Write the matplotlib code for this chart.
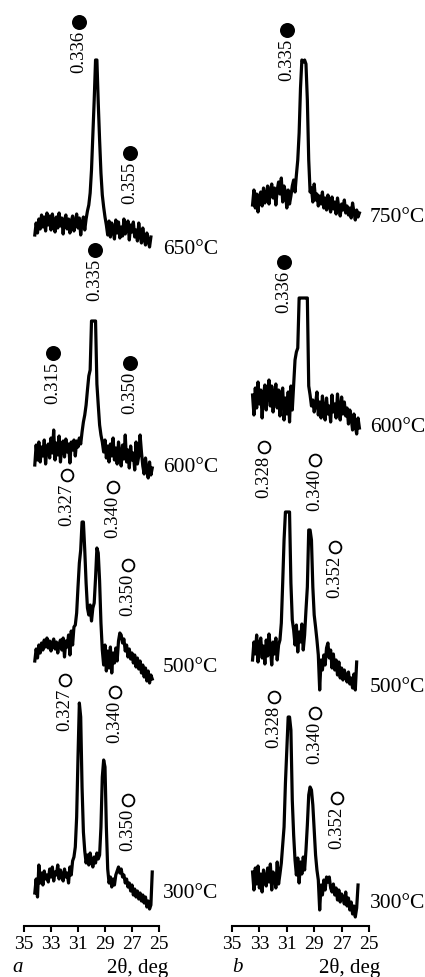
import numpy as np
import matplotlib
matplotlib.use("Agg")
import matplotlib.pyplot as plt

plt.rcParams['font.family'] = ['Liberation Serif', 'DejaVu Serif']

STEP = 0.1  # scan step, deg 2theta

# ---- panel a : intensities (arb. units) starting at 2theta = start, going down ----
a650_start = 34.2
a650 = [-10, 2, -8, 6, -4, 10, -2, 8, -6, 12,
        0, 9, -5, 11, 3, -7, 8, -3, 12, -1,
        7, -9, 5, 10, -4, 6, -8, 4, 9, -6,
        3, 11, -3, 7, -10, 2, 8, -5, 6, 14,
        20, 32, 55, 90, 125, 165, 165, 122, 85, 52,
        30, 18, 8, 0, -10, 4, -12, 2, -6, -14,
        5, -8, 3, -13, -2, -11, 6, -9, -4, 4,
        -15, 0, -7, 3, -12, -5, -16, 2, -10, -18,
        -3, -14, -20, -8, -16, -22, -12]

a600_start = 34.2
a600 = [-15, 5, -10, 8, -12, 3, -6, 10, -14, 2,
        6, -8, 12, -3, 20, -10, 7, -5, 14, -12,
        4, 9, -7, 11, -2, 6, -13, 8, 0, 10,
        -6, 9, 3, 12, 6, 18, 28, 35, 45, 60,
        74, 80, 129, 129, 129, 129, 66, 45, 25, 15,
        8, -2, 10, -8, 4, -12, 6, -6, 12, -10,
        2, -14, 8, -4, -16, 5, -9, 15, -12, 0,
        -18, 4, -10, -3, -20, 8, -14, -6, 15, -2,
        -16, -24, -8, -20, -28, -12, -25, -18]

a500_start = 34.2
a500 = [-8, 4, -5, 8, 0, 10, 3, 13, 6, 15,
        5, 12, 2, 10, 14, 4, 11, 0, 9, 13,
        3, 15, -4, 12, 6, 18, -2, 22, 8, 26,
        28, 40, 66, 90, 103, 131, 131, 103, 70, 45,
        38, 48, 32, 45, 50, 75, 105, 100, 72, 30,
        3, -12, 8, -18, 2, -15, 6, -20, 0, -10,
        5, -8, 12, 20, 18, 10, 14, 2, 8, -4,
        4, -6, 0, -10, -2, -14, -5, -16, -8, -20,
        -12, -24, -15, -28, -18, -30, -22, -26]

a300_start = 34.2
a300 = [-6, 8, -10, 22, 4, 14, 2, 16, 8, 12,
        5, 18, 10, 20, 6, 15, 12, 22, 8, 17,
        12, 6, 18, 10, 14, 4, 20, 12, 26, 30,
        40, 70, 130, 184, 170, 100, 55, 36, 24, 32,
        22, 34, 26, 20, 30, 24, 34, 28, 32, 60,
        110, 127, 120, 60, 18, 4, 10, 0, 8, 2,
        12, 16, 20, 14, 18, 10, 12, 4, 8, 0,
        4, -4, 2, -8, -2, -10, -4, -12, -6, -14,
        -8, -16, -10, -20, -14, -22, -18, 15]

# ---- panel b ----
b750_start = 33.5
b750 = [-5, 10, -8, 6, -12, 4, 8, -6, 12, -3,
        5, 14, -4, 9, 16, 2, 12, -5, 10, 18,
        6, 22, -2, 14, 8, -8, 10, -4, 4, 14,
        20, 8, 25, 40, 67, 112, 140, 138, 140, 136,
        100, 40, 8, 12, -2, 16, 0, 6, -6, 4,
        -4, 8, -8, 2, -10, 5, -6, -12, 3, -9,
        -2, -14, 2, -8, -16, -4, -10, 0, -13, -6,
        -15, -8, -18, -3, -12, -20, -10, -17, -13]

b600_start = 33.5
b600 = [5, -15, 12, -8, 18, -4, 10, -18, 6, 15,
        -10, 8, 20, -6, 14, -12, 4, 16, -8, 10,
        -16, 6, 12, -20, 2, -14, 8, -22, 14, -10,
        15, 40, 48, 52, 102, 102, 102, 102, 102, 102,
        102, 14, 5, -6, 0, -12, -4, 8, -15, -2,
        -18, 4, -10, -20, 2, -14, -6, -22, 5, -12,
        -4, -18, 6, -9, -20, 3, -14, -2, -16, -8,
        -24, -10, -18, -30, -14, -26, -34, -18, -28]

b500_start = 33.5
b500 = [-10, 8, -4, 15, -12, 6, 12, -8, 4, -14,
        10, -6, 16, 2, -15, 8, -4, 12, -10, 5,
        10, 27, 67, 110, 138, 138, 138, 138, 67, 30,
        20, 5, 25, -2, 18, 8, 26, 0, 15, 40,
        63, 120, 120, 110, 63, 35, 23, 10, -5, -40,
        -10, -20, -5, -15, 2, 7, -8, 0, -18, -4,
        -20, -10, -25, -12, -28, -18, -30, -20, -26, -32,
        -22, -34, -28, -38, -24, -40, -12]

b300_start = 33.5
b300 = [8, -10, 12, -4, 14, -8, 6, -12, 10, 2,
        -6, 12, -2, 16, -10, 8, 4, -8, 18, -4,
        6, 17, 35, 53, 97, 130, 163, 163, 150, 80,
        45, 20, 5, 22, -3, 18, 6, 23, 10, 30,
        55, 85, 93, 90, 75, 50, 25, 10, 0, -30,
        -5, -15, 0, -10, 3, -2, 3, -8, -12, -4,
        -15, -8, -20, -10, -22, -14, -18, -24, -12, -26,
        -18, -30, -22, -34, -26, -37, -28, -5]

temps_a = ['650°C', '600°C', '500°C', '300°C']
temps_b = ['750°C', '600°C', '500°C', '300°C']

# d-spacings, nm  (text, filled circle?)
labels_a = [('0.336', True), ('0.355', True),
            ('0.335', True), ('0.315', True), ('0.350', True),
            ('0.327', False), ('0.340', False), ('0.350', False),
            ('0.327', False), ('0.340', False), ('0.350', False)]
labels_b = [('0.335', True),
            ('0.336', True),
            ('0.328', False), ('0.340', False), ('0.352', False),
            ('0.328', False), ('0.340', False), ('0.352', False)]

# layout: vertical offsets of traces, label places
offs_a = [701, 476, 273, 39]
offs_b = [726, 526, 276, 46]
temp_y_a = [676, 458, 258, 33]
temp_y_b = [708, 499, 238, 23]
lab_pos_a = [(30.93, 874), (27.15, 743),
             (29.74, 646), (32.85, 543), (27.15, 533),
             (31.81, 421), (28.41, 409), (27.3, 331),
             (31.96, 216), (28.26, 204), (27.3, 96)]
lab_pos_b = [(30.99, 866),
             (31.2, 634),
             (32.66, 449), (28.94, 436), (27.48, 349),
             (31.93, 199), (28.94, 183), (27.34, 98)]

W, H = 425, 977
fig = plt.figure(figsize=(W / 100, H / 100), dpi=100)
axis_y = 926


def make_ax(x0, x1):
    ax = fig.add_axes([x0 / W, (H - axis_y) / H, (x1 - x0) / W, axis_y / H])
    ax.set_xlim(35, 25)
    ax.set_ylim(0, axis_y)
    for s in ['top', 'left', 'right']:
        ax.spines[s].set_visible(False)
    ax.spines['bottom'].set_linewidth(1.5)
    ax.set_yticks([])
    ax.set_xticks([35, 33, 31, 29, 27, 25])
    ax.tick_params(axis='x', direction='out', length=4, width=1.5,
                   pad=3, labelsize=14)
    ax.patch.set_alpha(0)
    return ax


def draw(ax, traces, offs, temps, temp_y, temp_x, labels, lab_pos):
    for (start, counts), off, t, ty in zip(traces, offs, temps, temp_y):
        tth = start - STEP * np.arange(len(counts))
        ax.plot(tth, np.array(counts) + off, color='black', lw=2.3)
        ax.text(temp_x, ty, t, fontsize=15.5, ha='left', va='center')
    for (txt, filled), (x, y) in zip(labels, lab_pos):
        ax.text(x, y, txt, rotation=90, fontsize=13.5, ha='center', va='center')
        ax.plot([x], [y + 30], 'o', ms=9.5 if filled else 8.5,
                mfc='black' if filled else 'white', mec='black', mew=1.3,
                clip_on=False)


ax_a = make_ax(24, 159)
ax_b = make_ax(232, 369)

draw(ax_a, [(a650_start, a650), (a600_start, a600), (a500_start, a500),
            (a300_start, a300)],
     offs_a, temps_a, temp_y_a, 24.7, labels_a, lab_pos_a)
draw(ax_b, [(b750_start, b750), (b600_start, b600), (b500_start, b500),
            (b300_start, b300)],
     offs_b, temps_b, temp_y_b, 24.93, labels_b, lab_pos_b)

fig.text(18 / W, 1 - 968 / H, 'a', style='italic', fontsize=15, ha='center', va='center')
fig.text(168 / W, 1 - 968 / H, '2θ, deg', fontsize=15, ha='right', va='center')
fig.text(237 / W, 1 - 968 / H, 'b', style='italic', fontsize=15, ha='center', va='center')
fig.text(380 / W, 1 - 968 / H, '2θ, deg', fontsize=15, ha='right', va='center')

fig.savefig('out.png', dpi=100)
